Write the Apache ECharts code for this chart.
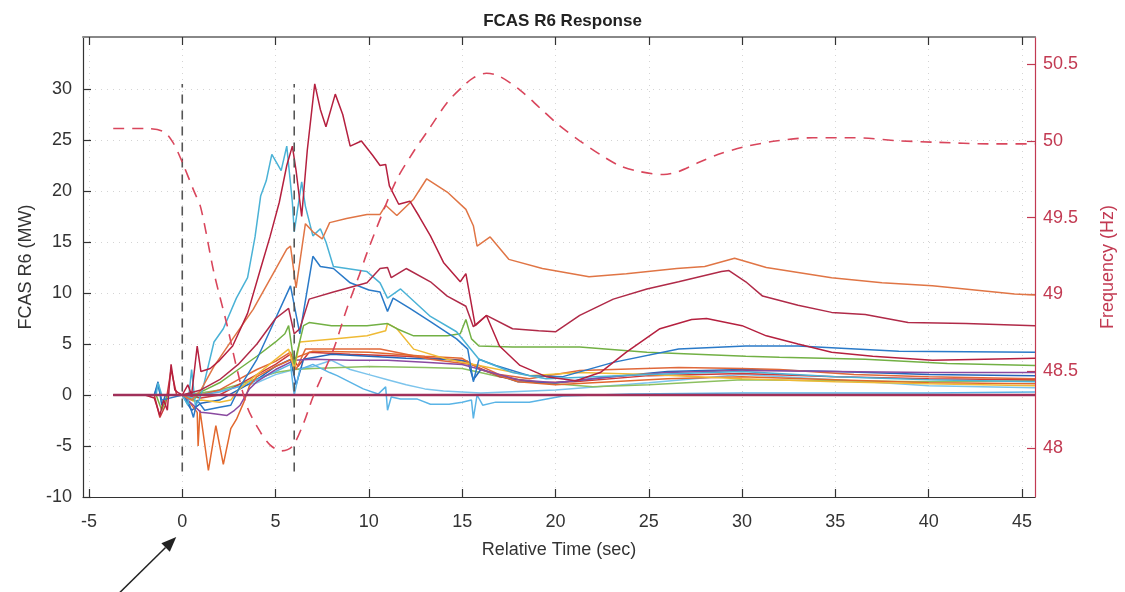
<!DOCTYPE html>
<html>
<head>
<meta charset="utf-8">
<title>FCAS R6 Response</title>
<script src="https://cdn.jsdelivr.net/npm/echarts@6/dist/echarts.min.js"></script>
<style>
  html, body { margin: 0; padding: 0; background: #fff; }
  #chart { width: 1125px; height: 592px; }
</style>
</head>
<body>
<div id="chart"></div>
<script>
// tick positions
var xTicks = [-5, 0, 5, 10, 15, 20, 25, 30, 35, 40, 45]
var mwTicks = [-10, -5, 0, 5, 10, 15, 20, 25, 30]
var hzTicks = [48, 48.5, 49, 49.5, 50, 50.5]

// dashed event markers (sec) and their extent (MW)
var markerTimes = [0, 6]
var markerSpan = [-7.5, 30.5]

// system frequency, [sec, Hz]
var frequency = [[-3.7,50.08],[-2,50.08],[-1,50.06],[-0.5,49.99],[0,49.86],[0.6,49.68],[1,49.56],[1.7,49.14],[2.4,48.8],[2.9,48.53],[3.5,48.26],[4.2,48.1],[4.7,48.02],[5.3,47.98],[5.9,48.01],[6.5,48.16],[7,48.33],[8.1,48.64],[8.8,48.9],[9.5,49.13],[9.9,49.27],[10.8,49.55],[11.5,49.75],[12.4,49.93],[13.3,50.09],[14.2,50.25],[15,50.35],[15.6,50.41],[16.3,50.44],[17,50.42],[18.1,50.33],[19.2,50.21],[20.2,50.1],[21.3,50],[22.4,49.91],[23.4,49.84],[24.5,49.8],[25.8,49.78],[26.6,49.8],[27.7,49.86],[28.7,49.91],[30.1,49.96],[31.9,50],[33.8,50.02],[36,50.02],[38.4,50],[40.5,49.99],[43.2,49.98],[45.7,49.98]]

// FCAS R6 response per unit, [sec, MW]
var unitA = [[-3.7,0],[-2,0],[-1.5,-0.3],[-1.2,-2],[-1,-0.5],[-0.8,-1.5],[-0.6,3],[-0.4,0.5],[-0.2,0.2],[0,0],[0.3,1],[0.5,0],[0.8,4.8],[1,2.3],[1.5,2.6],[2,3.4],[2.7,4.8],[3.5,8],[4.2,12.4],[4.7,15.5],[5.2,18.9],[5.6,22.5],[5.9,24.4],[6.1,22],[6.4,17.5],[6.7,24],[7.1,30.5],[7.4,28],[7.7,26.3],[8.2,29.5],[8.6,27.5],[9,24.4],[9.6,24.9],[10.2,23.5],[10.6,22.5],[10.9,22.6],[11.1,20.5],[11.6,18.7],[12.2,19],[12.7,17.5],[13.3,15.6],[14,13],[14.9,11.1],[15.2,11.9],[15.7,6.8],[16.3,7.8],[17,4.8],[18.1,2.9],[19.5,1.8],[21.1,1.4],[22.4,2.2],[23.8,4.2],[25.6,6.5],[27.3,7.4],[28.1,7.5],[30,6.8],[31.3,5.8],[33,5],[34.8,4.2],[37,3.8],[40.2,3.4],[43,3.5],[45.7,3.6]]
var unitB = [[-3.7,0],[0,0],[1,0.5],[2,1.5],[3,3],[4,5],[5,7.5],[5.7,8.5],[6,6],[6.3,6.5],[6.8,9.4],[8.1,10.1],[9.9,11],[10.6,12.4],[11,12.5],[11.2,11.5],[12,12.4],[13.3,11.1],[14.2,9.7],[15.2,8.7],[15.6,6.7],[16.3,7.8],[17.7,6.5],[19.1,6.3],[20,6.2],[21.3,7.8],[23.1,9.4],[24.9,10.4],[26.6,11.1],[28.9,12.1],[29.3,12.2],[30.2,11.1],[31.1,9.7],[33,8.8],[34.8,8.1],[36.6,7.9],[38.9,7.1],[42,7],[45.7,6.8]]
var unitC = [[-3.7,0],[0,0],[0.5,-0.5],[1,0.5],[1.7,2.8],[2.7,5.5],[3.8,8.4],[4.9,12],[5.6,14.3],[5.8,14.6],[6.1,10.5],[6.6,16.8],[7,16],[7.5,15.3],[7.9,16.9],[8.8,17.3],[9.9,17.7],[10.6,17.7],[10.9,18.6],[11.5,17.6],[12.4,19.2],[13.1,21.2],[14.2,19.9],[15.2,18.2],[15.6,16.6],[15.8,14.6],[16.5,15.5],[17.5,13.3],[19.3,12.4],[21.8,11.6],[23.8,11.9],[26.5,12.4],[28,12.6],[29.6,13.4],[31.3,12.5],[34.8,11.5],[37.5,11],[40.2,10.7],[43,10.2],[44.6,9.9],[45.7,9.8]]
var unitD = [[-3.7,0],[-1.4,0],[-1.3,1.2],[-1.1,0],[0,0],[0.3,-1],[0.5,2.5],[0.7,-1],[0.9,-0.5],[1.1,0.6],[1.7,5.2],[2.2,6.5],[2.9,9.5],[3.5,11.5],[3.9,15.5],[4.2,19.5],[4.5,21],[4.8,23.6],[5.3,22],[5.6,24.4],[5.9,18.9],[6,16],[6.4,20.9],[6.6,18.5],[7,15.6],[7.4,16.3],[7.7,15],[8.1,12.6],[9.9,12.1],[10.6,11],[11,9.5],[11.7,10.4],[13.3,7.7],[14.7,6.2],[15.9,3.5],[17.7,2.2],[19.5,1.6],[25,2],[30,2.3],[35,1.8],[40,1.5],[45.7,1.3]]
var unitE = [[-3.7,0],[-1.5,0],[-1.3,1],[-1.1,-0.5],[0,0],[0.4,-1],[0.6,-2.2],[0.8,-0.5],[1.2,-1.5],[2,-1.2],[2.6,-1],[3,0.5],[4,3.5],[5,7.5],[5.5,9.5],[5.8,10.7],[6.3,6],[7,13.6],[7.4,12.6],[8.1,12.4],[9,11],[10,10.3],[10.6,10.1],[11,8.2],[11.3,9.5],[12.2,8.5],[13.3,7.2],[14.7,5.5],[15.3,4.5],[15.6,1.3],[15.9,3.5],[16.8,2.9],[18.6,1.9],[20.4,1.8],[23.1,3.2],[26.6,4.5],[30.2,4.8],[33,4.8],[38.4,4.3],[45.7,4.2]]
var unitF = [[-3.7,0],[-1.4,0],[-1.1,-1.5],[-0.8,0],[0,0],[0.6,-0.5],[1,0.3],[2,1.2],[3,2.5],[4,3.8],[5,5.2],[5.5,6],[5.7,6.8],[6,3],[6.5,6.8],[6.8,7.1],[8,6.8],[9.9,6.8],[11,7],[11.5,6.5],[12.4,5.8],[14.2,5.8],[14.9,6],[15.2,7.4],[15.5,5.5],[15.9,4.8],[17.7,4.7],[21.3,4.7],[24.9,4.2],[30.2,3.8],[32,3.7],[36.6,3.5],[41,3.1],[45.7,2.9]]
var unitG = [[-3.7,0],[0,0],[0.6,-0.6],[1,-0.5],[2,-0.7],[2.6,-0.5],[3,0.5],[4,2],[5,3.5],[5.7,4.5],[6,2.5],[6.3,5.2],[8.1,5.5],[9.9,5.8],[10.9,6.3],[11,7],[11.5,6.5],[12.4,4.5],[14.2,3.5],[15.9,2.9],[18.6,1.9],[21.3,2.2],[25,2],[30,1.6],[35,1.3],[40,1.1],[45.7,0.9]]
var unitH = [[-3.7,0],[0,0],[0.6,-1],[1,-1.7],[1.5,-1.8],[2,-1.9],[2.4,-2],[2.8,-1.5],[3.1,-1],[3.6,0.6],[4,1.3],[5,2.5],[6,3.4],[7,3.5],[9,3.4],[11,3.4],[13,3.2],[15,3],[16,2.5],[18,1.5],[20,1.2],[23,1.8],[26,2.2],[30,2.4],[35,2.3],[40,2.2],[45.7,2.2]]
var unitI = [[-3.7,0],[0,0],[0.3,-0.5],[0.8,-1.7],[0.85,-5],[0.95,-1.5],[1.4,-7.4],[1.8,-3],[2.2,-6.8],[2.6,-3.3],[2.9,-2.4],[3.3,-0.7],[3.6,0.9],[4,1.8],[5,2.8],[6,3.6],[7,4.3],[10,4.2],[13,3.8],[15,3.6],[16,2.5],[18,1.3],[20,1],[23,1.3],[26,1.6],[30,1.8],[35,1.5],[40,1.2],[45.7,1.1]]
var unitJ = [[-3.7,0],[0,0],[0.5,-0.3],[1,0],[2,0.3],[3,0.8],[4,1.5],[5,2.3],[5.8,3],[6,0],[6.3,2.5],[7,3],[7.9,2.2],[8.3,1.9],[9.7,0.6],[10.5,0.1],[10.9,0.8],[11,-1.5],[11.2,-0.2],[11.7,-0.4],[12.6,-0.4],[13.3,-0.9],[14.3,-0.9],[15,-0.7],[15.5,-0.5],[15.6,-2.3],[15.8,0],[16.1,-1],[16.8,-0.7],[18.6,-0.7],[20.4,-0.1],[24,0.1],[30,0.2],[40,0.2],[45.7,0.3]]
var unitM = [[-3.7,0],[0,0],[1,0],[2,0.5],[3,1.5],[4,2.5],[5,3.3],[5.8,4.2],[6.1,2.5],[6.6,4.5],[8.1,4.5],[10.6,4.5],[12,4],[13.3,3.5],[15.9,2.9],[17,2],[18.6,1.6],[21.3,2.4],[26.6,2.7],[30,2.6],[32,2.5],[36,2],[40,1.8],[45.7,1.6]]
var unitN = [[-3.7,0],[-1.5,0],[-1.3,1.3],[-1.1,-1],[-0.9,0],[0,0],[0.5,-1.5],[1,-0.8],[2,-0.5],[3,0.5],[4,1.5],[5,2.8],[5.8,3.5],[6.1,1],[6.5,3.5],[8,4],[10,3.8],[12,3.6],[14,3.5],[15.3,3.3],[15.6,1.5],[16,2.5],[18,1.3],[20,1.2],[23,1.8],[26,2.3],[30,2.5],[35,2.3],[40,2],[45.7,1.9]]
var unitO = [[-3.7,0],[-1.5,0],[-1.2,-2.2],[-0.9,-1],[-0.6,2.5],[-0.3,0],[0,0],[1,-0.3],[2,0],[3,1],[4,2],[5,3],[5.8,4],[6.2,2.8],[6.8,4.2],[9,4],[12,3.8],[15,3.4],[17,1.8],[19,1.2],[21,1.3],[25,1.9],[30,2.1],[35,1.8],[40,1.6],[45.7,1.5]]
var unitP = [[-3.7,0],[0,0],[1,0.2],[2,0.5],[3,1],[4,1.6],[5,2.2],[6,2.5],[7,2.6],[10,2.8],[13,2.7],[15,2.6],[17,1.8],[19.3,1.2],[22,0.8],[25,1],[30,1.5],[35,1.4],[40,1.3],[45.7,1.4]]
var unitQ = [[-3.7,0],[0,0],[1,0.2],[2,0.4],[3,0.8],[4,1.2],[5,2],[6,2.5],[7,2.8],[8,3.4],[9,2.5],[10,2],[11,1.5],[12,1],[13,0.6],[14,0.4],[16,0.2],[20,0.5],[25,1.2],[30,2],[35,1.5],[40,0.9],[45.7,0.7]]
var unitZero = [[-3.7,0],[45.7,0]]

var units = [
  { data: unitQ, color: '#7cc4ec' },
  { data: unitP, color: '#8cc060' },
  { data: unitO, color: '#cc3a3a' },
  { data: unitN, color: '#2466b8' },
  { data: unitM, color: '#e0683a' },
  { data: unitJ, color: '#5ab4e6' },
  { data: unitI, color: '#e2682e' },
  { data: unitH, color: '#8a4aa0' },
  { data: unitG, color: '#efba35' },
  { data: unitF, color: '#72b044' },
  { data: unitE, color: '#2a7ac8' },
  { data: unitD, color: '#4ab2d6' },
  { data: unitC, color: '#e07545' },
  { data: unitB, color: '#b02a48' },
  { data: unitA, color: '#b5203f' },
  { data: unitZero, color: '#a0305a', width: 2.5 }
]

var red = '#c23a52'
var ink = '#333'
var font = 'Liberation Sans, Arial, sans-serif'

var myChart = echarts.init(document.getElementById('chart'))

var series = units.map(function (u) {
  return {
    type: 'line',
    xAxisIndex: 0,
    yAxisIndex: 0,
    data: u.data,
    showSymbol: false,
    symbol: 'none',
    silent: true,
    lineStyle: { width: u.width || 1.5, color: u.color }
  }
})

markerTimes.forEach(function (t) {
  series.push({
    type: 'line',
    xAxisIndex: 0,
    yAxisIndex: 0,
    data: [[t, markerSpan[0]], [t, markerSpan[1]]],
    showSymbol: false,
    symbol: 'none',
    silent: true,
    lineStyle: { width: 1.6, color: '#555', type: [9, 7] }
  })
})

series.push({
  type: 'line',
  xAxisIndex: 0,
  yAxisIndex: 1,
  data: frequency,
  smooth: 0.3,
  showSymbol: false,
  symbol: 'none',
  silent: true,
  lineStyle: { width: 1.6, color: '#d9465c', type: [11, 8] }
})

var option = {
  animation: false,
  backgroundColor: '#fff',
  title: {
    text: 'FCAS R6 Response',
    left: 'center',
    top: 8,
    textStyle: { fontFamily: font, fontSize: 17, fontWeight: 'bold', color: '#222' }
  },
  grid: { left: 83, right: 89, top: 37, bottom: 95, containLabel: false },
  xAxis: [
    {
      type: 'value',
      min: -5.32,
      max: 45.7,
      name: 'Relative Time (sec)',
      nameLocation: 'middle',
      nameGap: 44,
      nameTextStyle: { fontFamily: font, fontSize: 18, color: ink },
      axisLine: { show: true, onZero: false, lineStyle: { color: ink, width: 1.2 } },
      axisTick: { show: true, inside: true, length: 8, customValues: xTicks, lineStyle: { color: ink, width: 1.2 } },
      axisLabel: { customValues: xTicks, margin: 16, fontFamily: font, fontSize: 18, color: ink },
      splitLine: { show: true, lineStyle: { color: '#d4d4d4', type: [1, 5], width: 1 } }
    },
    {
      type: 'value',
      position: 'top',
      min: -5.32,
      max: 45.7,
      axisLine: { show: true, onZero: false, lineStyle: { color: '#888', width: 2 } },
      axisTick: { show: true, inside: true, length: 8, customValues: xTicks, lineStyle: { color: ink, width: 1.2 } },
      axisLabel: { show: false },
      splitLine: { show: false }
    }
  ],
  yAxis: [
    {
      type: 'value',
      min: -10,
      max: 35.1,
      name: 'FCAS R6 (MW)',
      nameLocation: 'middle',
      nameRotate: 90,
      nameGap: 48,
      nameTextStyle: { fontFamily: font, fontSize: 18, color: ink },
      axisLine: { show: true, onZero: false, lineStyle: { color: ink, width: 1.2 } },
      axisTick: { show: true, inside: true, length: 8, customValues: mwTicks, lineStyle: { color: ink, width: 1.2 } },
      axisLabel: { customValues: mwTicks, margin: 11, fontFamily: font, fontSize: 18, color: ink },
      splitLine: { show: true, lineStyle: { color: '#d4d4d4', type: [1, 5], width: 1 } }
    },
    {
      type: 'value',
      position: 'right',
      min: 47.68,
      max: 50.676,
      name: 'Frequency (Hz)',
      nameLocation: 'middle',
      nameRotate: 90,
      nameGap: 64,
      nameTextStyle: { fontFamily: font, fontSize: 18, color: red },
      axisLine: { show: true, onZero: false, lineStyle: { color: red, width: 1.2 } },
      axisTick: { show: true, inside: true, length: 8, customValues: hzTicks, lineStyle: { color: red, width: 1.2 } },
      axisLabel: { customValues: hzTicks, margin: 8, fontFamily: font, fontSize: 18, color: red },
      splitLine: { show: false }
    }
  ],
  series: series
}

option && myChart.setOption(option)

// hand-drawn arrow pointing at t = 0 under the axis
var x0 = myChart.convertToPixel({ xAxisIndex: 0 }, 0)
var tip = [x0 - 6, 537]
var tail = [x0 - 66, 596]
var dx = tip[0] - tail[0], dy = tip[1] - tail[1]
var len = Math.sqrt(dx * dx + dy * dy)
var ux = dx / len, uy = dy / len
var bx = tip[0] - ux * 15, by = tip[1] - uy * 15
myChart.setOption({
  graphic: [
    {
      type: 'line',
      silent: true,
      shape: { x1: tail[0], y1: tail[1], x2: bx, y2: by },
      style: { stroke: '#222', lineWidth: 1.5 }
    },
    {
      type: 'polygon',
      silent: true,
      shape: { points: [tip, [bx - uy * 6, by + ux * 6], [bx + uy * 6, by - ux * 6]] },
      style: { fill: '#222' }
    }
  ]
})
</script>
</body>
</html>
